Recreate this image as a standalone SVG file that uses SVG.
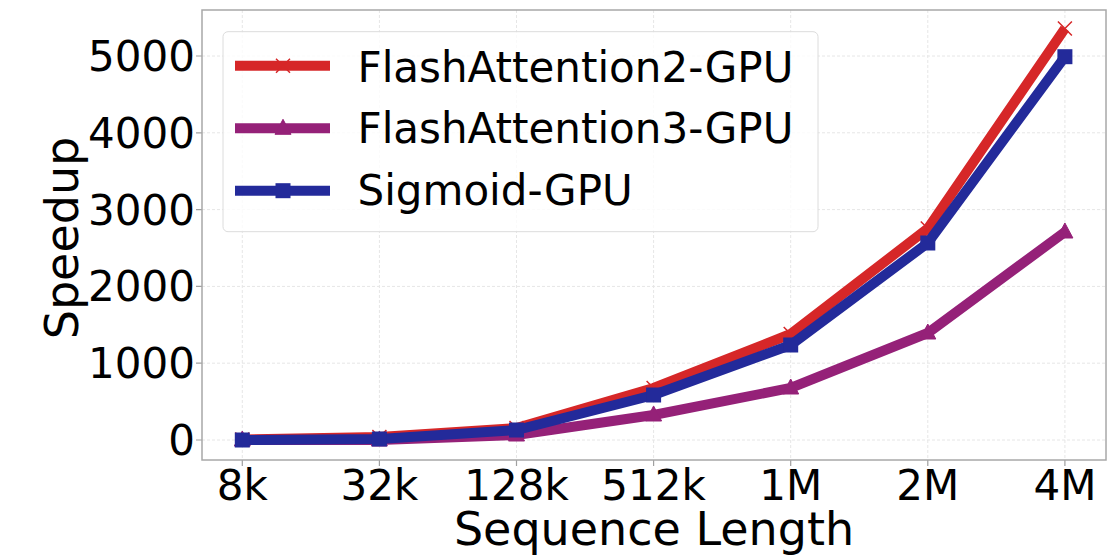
<svg xmlns="http://www.w3.org/2000/svg" width="1111" height="555" viewBox="0 0 1111 555">
<style>
.grid{stroke:#e6e6e6;stroke-width:1;stroke-dasharray:3,2;fill:none}
.tick{stroke:#a0a0a0;stroke-width:1.2}
.lbl{font-family:"DejaVu Sans",sans-serif;font-size:42px;fill:#000}
.axl{font-family:"DejaVu Sans",sans-serif;font-size:46px;fill:#000}
.fa2{stroke:#d62728;fill:none;stroke-width:10;stroke-linejoin:miter}
.fa3{stroke:#952178;fill:none;stroke-width:10;stroke-linejoin:miter}
.sig{stroke:#232a9a;fill:none;stroke-width:10;stroke-linejoin:miter}
</style>
<defs>
<g id="mx"><path d="M-7,-7 L7,7 M-7,7 L7,-7" stroke="#d62728" stroke-width="1.5" fill="none"/></g>
<g id="mt"><path d="M0,-9 L8,6 L-8,6 Z" fill="#952178" stroke="#952178" stroke-width="1"/></g>
<g id="ms"><rect x="-7.5" y="-7.5" width="15" height="15" fill="#232a9a"/></g>
</defs>
<rect width="1111" height="555" fill="#fff"/>
<g id="grid">
<path class="grid" d="M242.3,10V460M379.4,10V460M516.5,10V460M653.6,10V460M790.7,10V460M927.8,10V460M1064.9,10V460"/>
<path class="grid" d="M202,440H1106M202,363.2H1106M202,286.4H1106M202,209.6H1106M202,132.8H1106M202,56H1106"/>
</g>
<g id="ticks">
<path class="tick" d="M196,440H202M196,363.2H202M196,286.4H202M196,209.6H202M196,132.8H202M196,56H202"/>
<path class="tick" d="M242.3,460v6M379.4,460v6M516.5,460v6M653.6,460v6M790.7,460v6M927.8,460v6M1064.9,460v6"/>
</g>
<g id="yticklabels" text-anchor="end" class="lbl">
<text x="195" y="455">0</text>
<text x="195" y="378.2">1000</text>
<text x="195" y="301.4">2000</text>
<text x="195" y="224.6">3000</text>
<text x="195" y="147.8">4000</text>
<text x="195" y="71">5000</text>
</g>
<g id="xticklabels" text-anchor="middle" class="lbl">
<text x="242.3" y="500">8k</text>
<text x="379.4" y="500">32k</text>
<text x="516.5" y="500">128k</text>
<text x="653.6" y="500">512k</text>
<text x="790.7" y="500">1M</text>
<text x="927.8" y="500">2M</text>
<text x="1064.9" y="500">4M</text>
</g>
<text id="xlabel" class="axl" x="654" y="545" text-anchor="middle">Sequence Length</text>
<text id="ylabel" class="axl" transform="translate(78,238) rotate(-90)" text-anchor="middle">Speedup</text>
<g id="connectors">
<polyline id="fa2-line" class="fa2" points="242.3,439.5 379.4,437 516.5,428 653.6,388 790.7,334 927.8,228.5 1064.9,28.5"/>
<g id="fa2-markers">
<use href="#mx" x="242.3" y="439.5"/><use href="#mx" x="379.4" y="437"/><use href="#mx" x="516.5" y="428"/><use href="#mx" x="653.6" y="388"/><use href="#mx" x="790.7" y="334"/><use href="#mx" x="927.8" y="228.5"/><use href="#mx" x="1064.9" y="28.5"/>
</g>
<polyline id="fa3-line" class="fa3" points="242.3,440 379.4,440 516.5,435 653.6,415 790.7,388 927.8,333 1064.9,232"/>
<g id="fa3-markers">
<use href="#mt" x="242.3" y="440"/><use href="#mt" x="379.4" y="440"/><use href="#mt" x="516.5" y="435"/><use href="#mt" x="653.6" y="415"/><use href="#mt" x="790.7" y="388"/><use href="#mt" x="927.8" y="333"/><use href="#mt" x="1064.9" y="232"/>
</g>
<polyline id="sig-line" class="sig" points="242.3,440 379.4,439 516.5,430 653.6,395 790.7,345 927.8,243 1064.9,56.7"/>
<g id="sig-markers">
<use href="#ms" x="242.3" y="440"/><use href="#ms" x="379.4" y="439"/><use href="#ms" x="516.5" y="430"/><use href="#ms" x="653.6" y="395"/><use href="#ms" x="790.7" y="345"/><use href="#ms" x="927.8" y="243"/><use href="#ms" x="1064.9" y="56.7"/>
</g>
</g>
<rect id="frame" x="202" y="10" width="904" height="450" fill="none" stroke="#a8a8a8" stroke-width="1.5"/>
<g id="legend">
<rect x="223" y="31.7" width="595" height="200" rx="5" fill="#fff" fill-opacity="0.8" stroke="#dcdcdc" stroke-width="1"/>
<g id="leg-fa2">
<path class="fa2" d="M235,65.7H330"/><use href="#mx" x="283" y="65.7"/>
<text class="lbl" x="357.5" y="81.7">FlashAttention2-GPU</text>
</g>
<g id="leg-fa3">
<path class="fa3" d="M235,128.3H330"/><use href="#mt" x="283" y="128.3"/>
<text class="lbl" x="357.5" y="143.3">FlashAttention3-GPU</text>
</g>
<g id="leg-sig">
<path class="sig" d="M235,190.7H330"/><use href="#ms" x="283" y="190.7"/>
<text class="lbl" x="357.5" y="205">Sigmoid-GPU</text>
</g>
</g>
</svg>
